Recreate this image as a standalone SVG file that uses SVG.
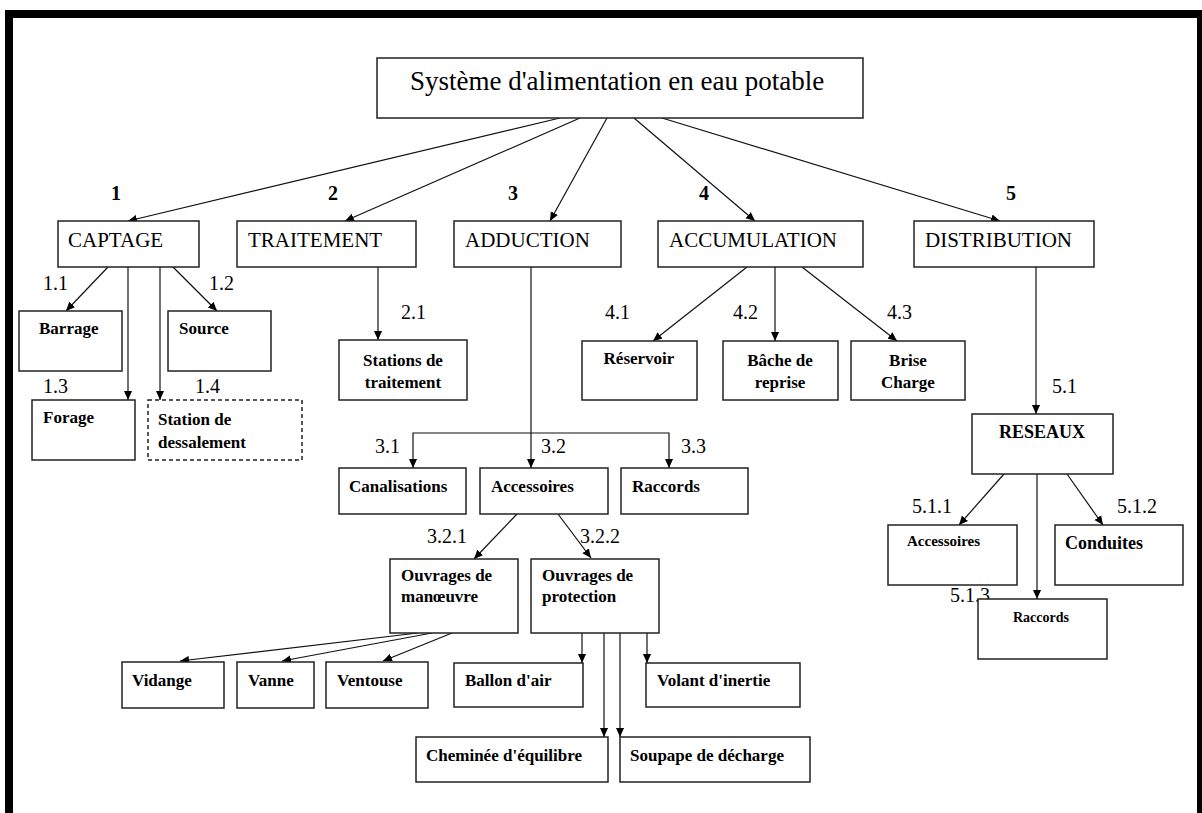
<svg xmlns="http://www.w3.org/2000/svg" width="1202" height="813" viewBox="0 0 1202 813">
<defs>
<marker id="ah" viewBox="0 0 10 10" refX="10" refY="5" markerWidth="9" markerHeight="9" markerUnits="userSpaceOnUse" orient="auto">
<path d="M0,0.5 L10,5 L0,9.5 z" fill="#000"/>
</marker>
<style>
.b{fill:#fff;stroke:#222;stroke-width:1.5}
.d{fill:#fff;stroke:#222;stroke-width:1.5;stroke-dasharray:4,3}
.c{fill:none;stroke:#111;stroke-width:1.2;marker-end:url(#ah)}
.n{fill:none;stroke:#111;stroke-width:1.2}
text{font-family:"Liberation Serif","Times New Roman",serif;fill:#000}
.t{font-size:27px}
.l1{font-size:21px}
.s{font-size:17px;font-weight:bold}
.num{font-size:20px;font-weight:bold}
.lb{font-size:20px}
.m{text-anchor:middle}
</style>
</defs>
<rect x="0" y="0" width="1202" height="813" fill="#fff"/>
<g id="frame">
<rect x="5" y="10" width="1197" height="8" fill="#000"/>
<rect x="5" y="10" width="8" height="803" fill="#000"/>
<rect x="1197" y="10" width="5" height="803" fill="#000"/>
</g>
<g id="connectors">
<path class="c" d="M560,118 L128,221"/>
<path class="c" d="M580,118 L345,221"/>
<path class="c" d="M607,118 L550,221"/>
<path class="c" d="M634,118 L755,221"/>
<path class="c" d="M662,118 L1000,221"/>
<path class="c" d="M108,267 L66,311"/>
<path class="c" d="M128,267 L128,400"/>
<path class="c" d="M160,267 L160,400"/>
<path class="c" d="M173,267 L217,311"/>
<path class="c" d="M378,267 L378,340"/>
<path class="c" d="M531,267 L531,468"/>
<path class="c" d="M531,433 L413,433 L413,468"/>
<path class="c" d="M531,433 L669,433 L669,468"/>
<path class="c" d="M747,267 L653,341"/>
<path class="c" d="M775,267 L775,341"/>
<path class="c" d="M802,267 L897,341"/>
<path class="c" d="M1036,267 L1036,414"/>
<path class="c" d="M1004,474 L959,525"/>
<path class="c" d="M1037,474 L1037,599"/>
<path class="c" d="M1067,474 L1103,525"/>
<path class="c" d="M517,514 L474,559"/>
<path class="c" d="M558,514 L591,558"/>
<path class="c" d="M418,633 L180,661"/>
<path class="c" d="M432,633 L282,661"/>
<path class="c" d="M452,633 L383,661"/>
<path class="c" d="M582,633 L582,663"/>
<path class="c" d="M604,633 L604,737"/>
<path class="c" d="M620,633 L620,737"/>
<path class="c" d="M647,633 L647,663"/>
</g>
<g id="labels">
<text class="num" x="111" y="200">1</text>
<text class="num" x="328" y="200">2</text>
<text class="num" x="508" y="200">3</text>
<text class="num" x="699" y="200">4</text>
<text class="num" x="1006" y="200">5</text>
<text class="lb" x="43" y="290">1.1</text>
<text class="lb" x="209" y="290">1.2</text>
<text class="lb" x="43" y="393">1.3</text>
<text class="lb" x="195" y="393">1.4</text>
<text class="lb" x="401" y="319">2.1</text>
<text class="lb" x="375" y="453">3.1</text>
<text class="lb" x="541" y="453">3.2</text>
<text class="lb" x="681" y="453">3.3</text>
<text class="lb" x="427" y="543">3.2.1</text>
<text class="lb" x="580" y="543">3.2.2</text>
<text class="lb" x="605" y="319">4.1</text>
<text class="lb" x="733" y="319">4.2</text>
<text class="lb" x="887" y="319">4.3</text>
<text class="lb" x="1052" y="393">5.1</text>
<text class="lb" x="912" y="513">5.1.1</text>
<text class="lb" x="1117" y="513">5.1.2</text>
<text class="lb" x="950" y="602">5.1.3</text>
</g>
<g id="root"><rect class="b" x="377" y="58" width="486" height="60"/><text class="t" x="410" y="90">Système d'alimentation en eau potable</text></g>
<g id="captage"><rect class="b" x="58" y="221" width="141" height="46"/><text class="l1" x="68" y="247">CAPTAGE</text></g>
<g id="traitement"><rect class="b" x="237" y="221" width="179" height="46"/><text class="l1" x="248" y="247">TRAITEMENT</text></g>
<g id="adduction"><rect class="b" x="454" y="221" width="167" height="46"/><text class="l1" x="465" y="247">ADDUCTION</text></g>
<g id="accumulation"><rect class="b" x="658" y="221" width="205" height="46"/><text class="l1" x="669" y="247">ACCUMULATION</text></g>
<g id="distribution"><rect class="b" x="914" y="221" width="180" height="46"/><text class="l1" x="925" y="247">DISTRIBUTION</text></g>
<g id="barrage"><rect class="b" x="19" y="311" width="103" height="60"/><text class="s" x="39" y="334">Barrage</text></g>
<g id="source"><rect class="b" x="168" y="311" width="103" height="60"/><text class="s" x="179" y="334">Source</text></g>
<g id="forage"><rect class="b" x="32" y="400" width="103" height="60"/><text class="s" x="43" y="423">Forage</text></g>
<g id="dessalement"><rect class="d" x="148" y="400" width="154" height="60"/><text class="s" x="158" y="425">Station de</text><text class="s" x="158" y="448">dessalement</text></g>
<g id="stations"><rect class="b" x="339" y="340" width="128" height="60"/><text class="s m" x="403" y="366">Stations de</text><text class="s m" x="403" y="388">traitement</text></g>
<g id="canalisations"><rect class="b" x="339" y="468" width="127" height="46"/><text class="s" x="349" y="492">Canalisations</text></g>
<g id="accessoires"><rect class="b" x="480" y="468" width="128" height="46"/><text class="s" x="491" y="492">Accessoires</text></g>
<g id="raccords"><rect class="b" x="621" y="468" width="127" height="46"/><text class="s" x="632" y="492">Raccords</text></g>
<g id="reservoir"><rect class="b" x="582" y="341" width="115" height="59"/><text class="s m" x="639" y="364">Réservoir</text></g>
<g id="bache"><rect class="b" x="723" y="341" width="115" height="59"/><text class="s m" x="780" y="366">Bâche de</text><text class="s m" x="780" y="388">reprise</text></g>
<g id="brise"><rect class="b" x="851" y="341" width="114" height="59"/><text class="s m" x="908" y="366">Brise</text><text class="s m" x="908" y="388">Charge</text></g>
<g id="reseaux"><rect class="b" x="972" y="414" width="141" height="60"/><text class="s" style="font-size:18px" x="999" y="438">RESEAUX</text></g>
<g id="accessoires-reseau"><rect class="b" x="888" y="525" width="129" height="60"/><text class="s" style="font-size:15px" x="907" y="546">Accessoires</text></g>
<g id="conduites"><rect class="b" x="1055" y="525" width="128" height="60"/><text class="s" style="font-size:18px" x="1065" y="549">Conduites</text></g>
<g id="raccords-reseau"><rect class="b" x="978" y="599" width="129" height="60"/><text class="s" style="font-size:14px" x="1013" y="622">Raccords</text></g>
<g id="manoeuvre"><rect class="b" x="390" y="559" width="128" height="74"/><text class="s" x="401" y="581">Ouvrages de</text><text class="s" x="401" y="602">manœuvre</text></g>
<g id="protection"><rect class="b" x="531" y="559" width="128" height="74"/><text class="s" x="542" y="581">Ouvrages de</text><text class="s" x="542" y="602">protection</text></g>
<g id="vidange"><rect class="b" x="122" y="662" width="102" height="46"/><text class="s" x="132" y="686">Vidange</text></g>
<g id="vanne"><rect class="b" x="237" y="662" width="77" height="46"/><text class="s" x="248" y="686">Vanne</text></g>
<g id="ventouse"><rect class="b" x="326" y="662" width="102" height="46"/><text class="s" x="337" y="686">Ventouse</text></g>
<g id="ballon"><rect class="b" x="454" y="663" width="129" height="44"/><text class="s" x="465" y="686">Ballon d'air</text></g>
<g id="volant"><rect class="b" x="646" y="663" width="154" height="44"/><text class="s" x="657" y="686">Volant d'inertie</text></g>
<g id="cheminee"><rect class="b" x="416" y="737" width="192" height="45"/><text class="s" x="426" y="761">Cheminée d'équilibre</text></g>
<g id="soupape"><rect class="b" x="620" y="737" width="190" height="45"/><text class="s" x="630" y="761">Soupape de décharge</text></g>
</svg>
